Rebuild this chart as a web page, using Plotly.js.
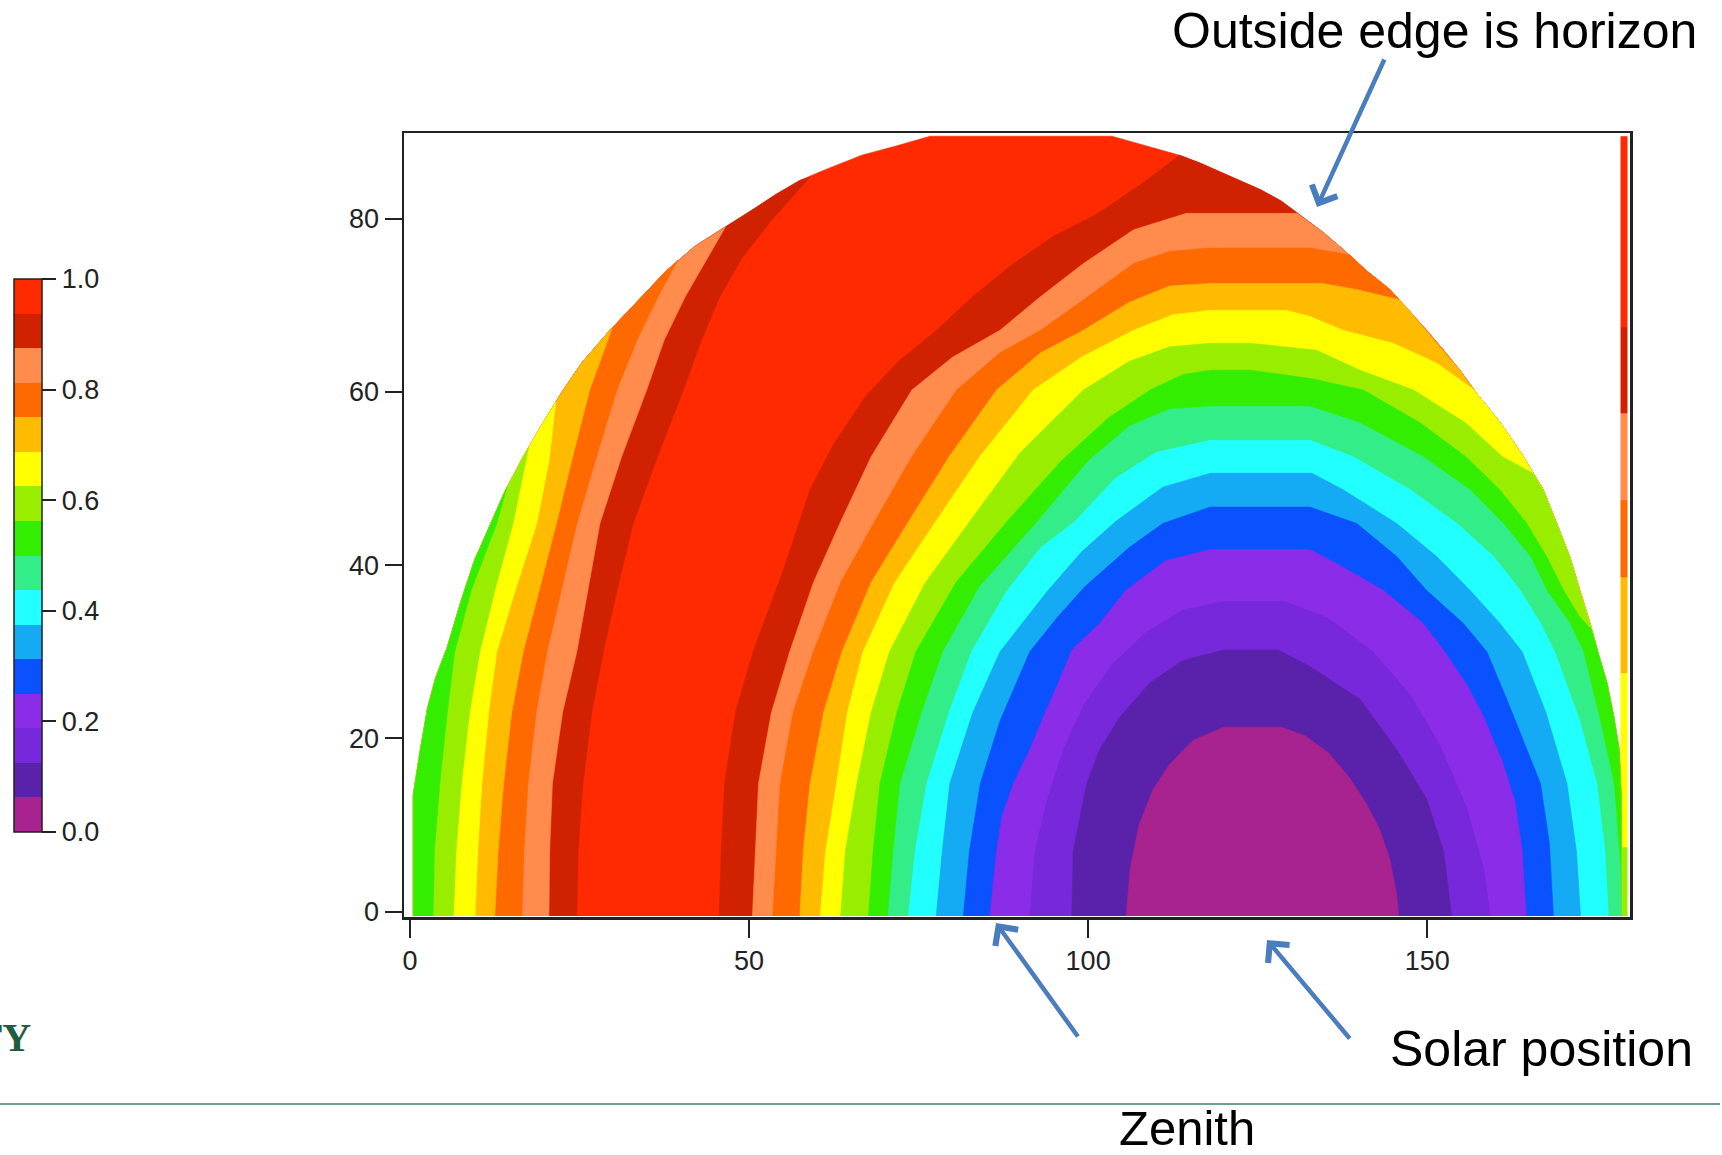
<!DOCTYPE html>
<html><head><meta charset="utf-8">
<script src="https://cdn.plot.ly/plotly-3.0.1.min.js"></script>
<style>html,body{margin:0;padding:0;background:#fff;}#chart{width:1722px;height:1155px;}</style>
</head><body><div id="chart"></div>
<script>
// ---- colour bands (value 0.0 -> 1.0 in 16 steps) ----
const bandColors = ['#A82290','#5A22AA','#7628DA','#8A2CE8','#0A52FF','#14AAF4','#22FFFF','#33EE88',
                    '#33EE00','#99EE00','#FFFF00','#FFBB00','#FF6A00','#FF8C4C','#D02200','#FF2A00'];
const cbTicks = [0, 0.2, 0.4, 0.6, 0.8, 1.0];
const xTicks = [0, 50, 100, 150];
const yTicks = [0, 20, 40, 60, 80];

// ---- horizon (outer edge of the sky region) ----
const horizon = [[0.5,-0.5],[0.5,13.5],[1.5,18.5],[2.6,23.5],[3.8,27],[5.5,30.5],[7.6,36],[9.5,40.5],[11.5,44],
 [14,48.5],[16.7,52.5],[19.6,56.4],[22.6,60.2],[25.5,63.5],[29.5,67.1],[34,70.8],[37.6,73.8],[42,76.8],[46.5,79],
 [50.5,81],[54,82.8],[57.5,84.4],[60.5,85.4],[63.7,86.4],[66.6,87.3],[71.8,88.4],[76.7,89.5],[103.5,89.5],
 [108.6,88.4],[113.5,87.3],[116.5,86.4],[119.4,85.4],[122.4,84.4],[125.5,83.3],[128.5,82],[131.5,80.2],
 [134.5,78.5],[137.5,76.5],[141,74],[144.5,71.8],[147.2,69.5],[149.9,67.1],[152.4,64.8],[154.8,62.5],
 [157.3,59.8],[160.8,56.4],[164.2,52.5],[167.1,48.7],[169.1,44.8],[171,41],[172.5,37.1],[174,33.3],
 [175.2,29.8],[176.5,26.4],[177.5,22.5],[178.3,18.7],[178.6,12.9],[178.6,-0.5]];

// ---- band boundaries left of the bright ridge (threshold k: band k-1 | band k) ----
const c9L  = [[3.4,-0.5],[3.6,7],[4.4,14.8],[5.5,23],[6.6,30],[9,37],[12.8,44.8],[14.3,49]];
const c10L = [[6.4,-0.5],[6.8,7],[7.6,14.8],[8.8,23],[10.3,30],[12.5,37],[15.2,44.8],[17.5,53.6]];
const c11L = [[9.6,-0.5],[10,7],[10.6,14.8],[11.6,23],[12.8,30],[15.5,37],[18.7,44.8],[20.5,52],[21.5,58.8]];
const c12L = [[12.5,-0.5],[13,7],[13.8,14.8],[15,23],[16.7,30],[19,37],[21.6,44.8],[24,52.5],[26.5,60.2],[29.8,67.3]];
const c13L = [[16.5,-0.5],[16.8,7],[17.4,14.8],[18.6,23],[20.2,30],[22.3,37],[24.6,44.8],[27.5,52.5],[30.5,60.2],
 [33.5,66],[36.6,71],[39.5,75.2]];
const c14L = [[20.5,-0.5],[20.6,7],[21,14.8],[22.5,23],[24.6,30],[26.2,37],[28,44.8],[31.2,52.5],[34.9,60.2],
 [37.5,66],[40.6,71],[46.5,79]];
const c15L = [[24.6,-0.5],[24.8,7],[25.5,14.8],[26.8,23],[28.5,30],[30.5,37],[32.9,44.8],[36.5,52.5],[40.3,60.2],
 [43,66],[45.7,71],[49,75.5],[53,79.5],[59,84.8]];

// ---- band boundaries around the solar position (threshold k: band k-1 inside | band k outside) ----
const c1R = [[105.6,-0.5],[106.2,5],[107.5,10],[109.5,14],[112,17],[115.5,19.8],[120,21.3],[128.5,21.3],[132,20.3],
 [135.5,18.3],[138.5,15.5],[141,12.5],[143,9.5],[144.5,6],[145.5,2],[145.8,-0.5]];
const c2R = [[97.6,-0.5],[97.8,7],[99.8,14.8],[101.7,18.7],[104.7,22.5],[109.1,26.4],[114,29],[120,30.2],[128,30.2],
 [132.7,28.3],[140.1,24.5],[145.5,18.7],[149.9,13],[152.4,7],[153.6,-0.5]];
const c3R = [[91.4,-0.5],[92.2,7],[94,13],[96.5,19],[99.5,24],[103.5,28.5],[108.5,32.2],[114,34.8],[120,35.8],
 [129,35.8],[135.5,33.8],[142,30],[147.5,25],[152,19],[155.8,12],[158.3,5],[159.3,-0.5]];
const c4R = [[85.5,-0.5],[86.5,7],[87.3,11],[89,14.8],[91.4,18.7],[93.4,22.5],[95.6,26.4],[97.6,30.2],[101.7,33.3],
 [105.6,37.1],[111.4,40.5],[118,41.8],[132.7,41.8],[136.6,40.2],[143.5,37.1],[149.4,33.3],[152.4,30.2],[156,26],
 [158.3,22.5],[161,17.5],[162.9,12.9],[164,7],[164.6,-0.5]];
const c5R = [[81.6,-0.5],[82.5,7],[84.1,14.8],[87,22],[91.4,30],[95.5,34],[99.5,37.5],[106,42],[111,44.8],[118,46.7],
 [132.7,46.7],[139.6,44.8],[145.5,41],[149.9,37.1],[155.3,33.3],[158.8,30],[162,24],[164.5,19],[166.7,14.8],
 [168,8],[168.6,-0.5]];
const c6R = [[77.6,-0.5],[78.5,7],[79.6,14.8],[83,23],[87,30],[94,37],[99,41.5],[104,45],[111,49],[118,50.6],
 [133,50.6],[137.6,48.7],[145.5,44.8],[151.4,41],[156.3,37.1],[160.7,33.3],[164,30],[167.5,23],[170.6,14.8],
 [172,7],[172.6,-0.5]];
const c7R = [[73.5,-0.5],[74.5,7],[76.2,14.8],[79.5,23],[82.8,30],[88,37],[93,42],[98,45],[104,50],[110,53],
 [118,54.4],[132.7,54.4],[139.1,52.5],[147.5,48.7],[154.4,44.8],[159.8,41],[163.7,37.1],[166.7,33.3],[168.8,30],
 [172.5,22],[175,14.8],[176.2,7],[176.7,-0.5]];
const c8R = [[70.5,-0.5],[71.3,7],[72.3,14.8],[75.5,23],[78.6,30],[84,37.5],[92.5,45],[100,52],[106,56],[112,58],
 [118,58.3],[132.7,58.3],[140.1,56.4],[149.4,52.5],[156.3,48.7],[161.2,44.8],[165.2,41],[167.6,37.1],[171,33.3],
 [173,30],[175.5,22],[177.5,14.8],[178.5,5]];
const c9R = [[67.6,-0.5],[68.3,7],[69.3,14.8],[71.8,23],[74.6,30],[80.5,38],[88,45],[96,52],[103,57],[109.1,60.2],
 [114,62],[118,62.5],[124,62.5],[133,61.5],[140.6,60.2],[149,56.4],[155.7,52.5],[160.7,48.7],[164.7,44.8],
 [167.6,41],[170.1,37.1],[172.5,34],[174.2,32.6]];
const c10R = [[63.5,-0.5],[64.2,7],[65.9,14.8],[68,23],[70.7,30],[76,38],[82.5,45],[90,53],[99.3,60.2],[106,63.5],
 [112,65.2],[118,65.6],[124,65.6],[133.7,64.8],[140.1,62.5],[148,60.2],[155.7,56.4],[161.1,52.5],[165.6,50.6]];
const c11R = [[60.5,-0.5],[61.3,7],[62.9,14.8],[64.5,23],[66.8,30],[71.5,38],[77.5,45],[84,52.5],[91.9,60.2],
 [99,64],[106.7,67.1],[112.5,68.9],[118,69.4],[129.2,69.4],[132.7,68.7],[137.6,67.1],[145,65.6],[151.4,63.3],
 [156.8,60.3]];
const c12R = [[57.5,-0.5],[58,7],[59,14.8],[61,23],[63.7,30],[68,38],[73.5,45],[79.5,52.5],[86.5,60.2],[93,64.5],
 [99.3,67.1],[106,70.3],[112,72.2],[118,72.5],[134.6,72.5],[139.6,71.8],[146,70.6]];
const c13R = [[53.5,-0.5],[54,7],[54.6,14.8],[56.5,23],[59.5,30],[63.5,38],[68.5,45],[74,52.5],[80.6,60.2],[87,64.5],
 [93,67.1],[100,71],[106.7,74.8],[112,76.2],[118,76.6],[132.7,76.6],[136,76.2],[138.6,75.8]];
const c14R = [[50.5,-0.5],[50.9,7],[51.4,14.8],[53.3,23],[56,30],[59.5,38],[63.5,45],[68,52.5],[74,60.2],[80,64],
 [87,67.1],[93,71],[99.3,74.8],[106.7,78.7],[114.5,80.6],[130.8,80.6]];
const c15R = [[45.6,-0.5],[45.9,7],[46.4,14.8],[48,23],[50.6,30],[55,39.3],[59,48.7],[62.5,54],[67.3,59.6],[72,63.5],
 [77.5,67],[83,71],[89,74.8],[95,78],[101.5,80.6],[108.6,84.4],[113.5,87.3]];

// ---- the last column (azimuth edge strip), band index per elevation span ----
const stripEdgesY = [-0.5, 7.5, 27.5, 38.6, 47.5, 57.5, 67.5, 89.5];
const stripBand   = [9, 10, 11, 12, 13, 14, 15];
const stripEdgesX = [178.5, 179.5];

// ---------------------------------------------------------------
const NB = bandColors.length;
const colorscale = [];
bandColors.forEach((c,i)=>{ colorscale.push([i/NB, c]); colorscale.push([(i+1)/NB, c]); });

function poly(pts, band){
  return {type:'scatter', mode:'lines', x: pts.map(p=>p[0]), y: pts.map(p=>p[1]),
    fill:'toself', fillcolor: bandColors[band], line:{width:0.6, color: bandColors[band]},
    hoverinfo:'skip', showlegend:false};
}
function leftRegion(c){
  const e = c[c.length-1];
  return c.concat(horizon.filter(p => p[0] < e[0] && p[1] < e[1]).reverse());
}
function rightRegion(c){
  const e = c[c.length-1];
  if (e[1] <= 0) return c;
  return c.concat(horizon.filter(p => p[0] > e[0] && p[1] < e[1]));
}

const leftList  = [[15,c15L],[14,c14L],[13,c13L],[12,c12L],[11,c11L],[10,c10L],[9,c9L]];
const rightList = [[15,c15R],[14,c14R],[13,c13R],[12,c12R],[11,c11R],[10,c10R],[9,c9R],[8,c8R],
                   [7,c7R],[6,c6R],[5,c5R],[4,c4R],[3,c3R],[2,c2R],[1,c1R]];

const W = 1722, H = 1155, L = 404, R = 1630, T = 133, B = 917;
const px = X => (X - L) / (R - L);
const py = Y => (B - Y) / (B - T);

const traces = [];
traces.push({type:'heatmap', x: stripEdgesX, y: stripEdgesY,
  z: stripBand.map(b => [(b + 0.5) / NB]), zmin:0, zmax:1, colorscale: colorscale,
  hoverinfo:'skip', showscale:true,
  colorbar:{x: px(14), xanchor:'left', xpad:0, y: py(555.5), yanchor:'middle', ypad:0,
    thickness:28, thicknessmode:'pixels', len:553, lenmode:'pixels',
    outlinewidth:1.5, outlinecolor:'#222', ticks:'outside', ticklen:14, tickwidth:2, tickcolor:'#222',
    tickvals: cbTicks, tickformat:'.1f', tickprefix:'\u2009', tickfont:{size:27, color:'#222'}}});
traces.push(poly(horizon, 15));
leftList.forEach(([k,c]) => traces.push(poly(leftRegion(c), k-1)));
rightList.forEach(([k,c]) => traces.push(poly(rightRegion(c), k-1)));

const arrowColor = '#4A7DBE';
function arrow(hx, hy, tx, ty){
  return {xref:'paper', yref:'paper', x: px(hx), y: py(hy), ax: tx-hx, ay: ty-hy, text:'',
    showarrow:true, arrowhead:4, arrowsize:1.2, arrowwidth:4.5, arrowcolor: arrowColor, standoff:0};
}
function label(text, cx, cy, size, extra){
  return Object.assign({xref:'paper', yref:'paper', x: px(cx), y: py(cy), xanchor:'center', yanchor:'middle',
    text: text, showarrow:false, font:{size:size, color:'#000', family:'Liberation Sans, Arial, sans-serif'}}, extra||{});
}

const layout = {
  width: W, height: H,
  margin:{l:L, r:W-R, t:T, b:H-B, pad:0},
  paper_bgcolor:'#fff', plot_bgcolor:'#fff',
  font:{family:'Liberation Sans, Arial, sans-serif', color:'#222'},
  showlegend:false,
  xaxis:{range:[-0.88, 179.9], tickvals:xTicks, ticks:'outside', ticklen:18, tickwidth:2, tickcolor:'#222',
    showline:true, mirror:true, linecolor:'#222', linewidth:2.5, showgrid:false, zeroline:false,
    tickfont:{size:27, color:'#222'}, ticklabelstandoff:0},
  yaxis:{range:[-0.61, 89.87], tickvals:yTicks, ticks:'outside', ticklen:17, tickwidth:2, tickcolor:'#222',
    showline:true, mirror:true, linecolor:'#222', linewidth:2.5, showgrid:false, zeroline:false,
    tickfont:{size:27, color:'#222'}, ticklabelstandoff:0},
  shapes:[{type:'line', xref:'paper', yref:'paper', x0: px(0), x1: px(1720), y0: py(1104), y1: py(1104),
    line:{color:'#6E9E8C', width:2}}],
  annotations:[
    label('Outside edge is horizon', 1434.7, 31, 50),
    label('Solar position', 1541.6, 1049, 50),
    label('Zenith', 1186.5, 1128, 49),
    label('<b>ITY</b>', 33, 1037, 40, {xanchor:'right', font:{size:40, color:'#1E5E3E', family:'Liberation Serif, Times New Roman, serif'}}),
    arrow(1317, 207, 1385, 58),
    arrow(996, 923, 1079, 1038),
    arrow(1267, 940, 1351, 1040)
  ]
};

Plotly.newPlot('chart', traces, layout, {staticPlot:true, displayModeBar:false});
</script>
</body></html>
